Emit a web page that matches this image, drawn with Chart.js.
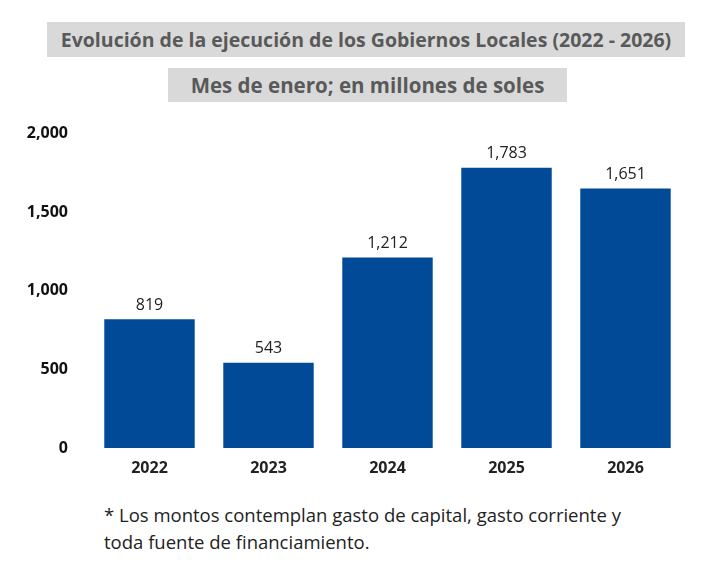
<!DOCTYPE html>
<html>
<head>
<meta charset="UTF-8">
<title>Gobiernos Locales</title>
<script src="https://cdn.jsdelivr.net/npm/chart.js"></script>
<style>
  body { margin: 0; width: 710px; height: 564px; background: #fff; font-family: "Open Sans", "Noto Sans", sans-serif; position: relative; overflow: hidden; }
  .box { position: absolute; background: #d9d9d9; color: #595959; font-weight: bold; text-align: center; white-space: nowrap; }
  #title { left: 47px; top: 22px; width: 638px; height: 35px; line-height: 35px; font-size: 19.5px; }
  #subtitle { left: 168px; top: 68px; width: 399px; height: 34px; line-height: 34px; font-size: 20.5px; }
  #wrap { position: absolute; left: 0; top: 110px; width: 710px; height: 378px; }
  #note { position: absolute; left: 104px; top: 501px; font-size: 18.5px; line-height: 27px; color: #222; white-space: nowrap; }
</style>
</head>
<body>
<div class="box" id="title">Evolución de la ejecución de los Gobiernos Locales (2022 - 2026)</div>
<div class="box" id="subtitle">Mes de enero; en millones de soles</div>
<div id="wrap"><canvas id="chart"></canvas></div>
<div id="note">* Los montos contemplan gasto de capital, gasto corriente y<br>toda fuente de financiamiento.</div>
<script>
var years = ['2022', '2023', '2024', '2025', '2026'];
var ejecucion = [819, 543, 1212, 1783, 1651];
var yTicks = [0, 500, 1000, 1500, 2000];

var valueLabels = {
    id: 'valueLabels',
    afterDatasetsDraw: function(chart) {
        var ctx = chart.ctx;
        var meta = chart.getDatasetMeta(0);
        ctx.save();
        ctx.font = '16px "Open Sans", sans-serif';
        ctx.fillStyle = '#222';
        ctx.textAlign = 'center';
        ctx.textBaseline = 'bottom';
        meta.data.forEach(function(bar, i) {
            ctx.fillText(ejecucion[i].toLocaleString('en-US'), bar.x, bar.y - 6);
        });
        ctx.restore();
    }
};

var ctx = document.getElementById('chart').getContext('2d');
new Chart(ctx, {
    type: 'bar',
    data: {
        labels: years,
        datasets: [{
            data: ejecucion,
            backgroundColor: '#004a98',
            barPercentage: 0.76,
            categoryPercentage: 1
        }]
    },
    options: {
        responsive: true,
        maintainAspectRatio: false,
        animation: false,
        layout: { padding: { top: 20, right: 25 } },
        plugins: { legend: { display: false }, tooltip: { enabled: false } },
        scales: {
            x: {
                grid: { display: false },
                border: { display: false },
                ticks: { color: '#222', font: { size: 16, weight: 'bold', family: '"Open Sans", sans-serif' } },
                afterFit: function(s) { s.height = 40; }
            },
            y: {
                min: 0, max: 2000,
                afterBuildTicks: function(s) { s.ticks = yTicks.map(function(v) { return { value: v }; }); },
                grid: { display: false },
                border: { display: false },
                ticks: {
                    color: '#111', padding: 14,
                    font: { size: 16, weight: 'bold', family: '"Open Sans", sans-serif' },
                    callback: function(v) { return v.toLocaleString('en-US'); }
                },
                afterFit: function(s) { s.width = 90; }
            }
        }
    },
    plugins: [valueLabels]
});
</script>
</body>
</html>
